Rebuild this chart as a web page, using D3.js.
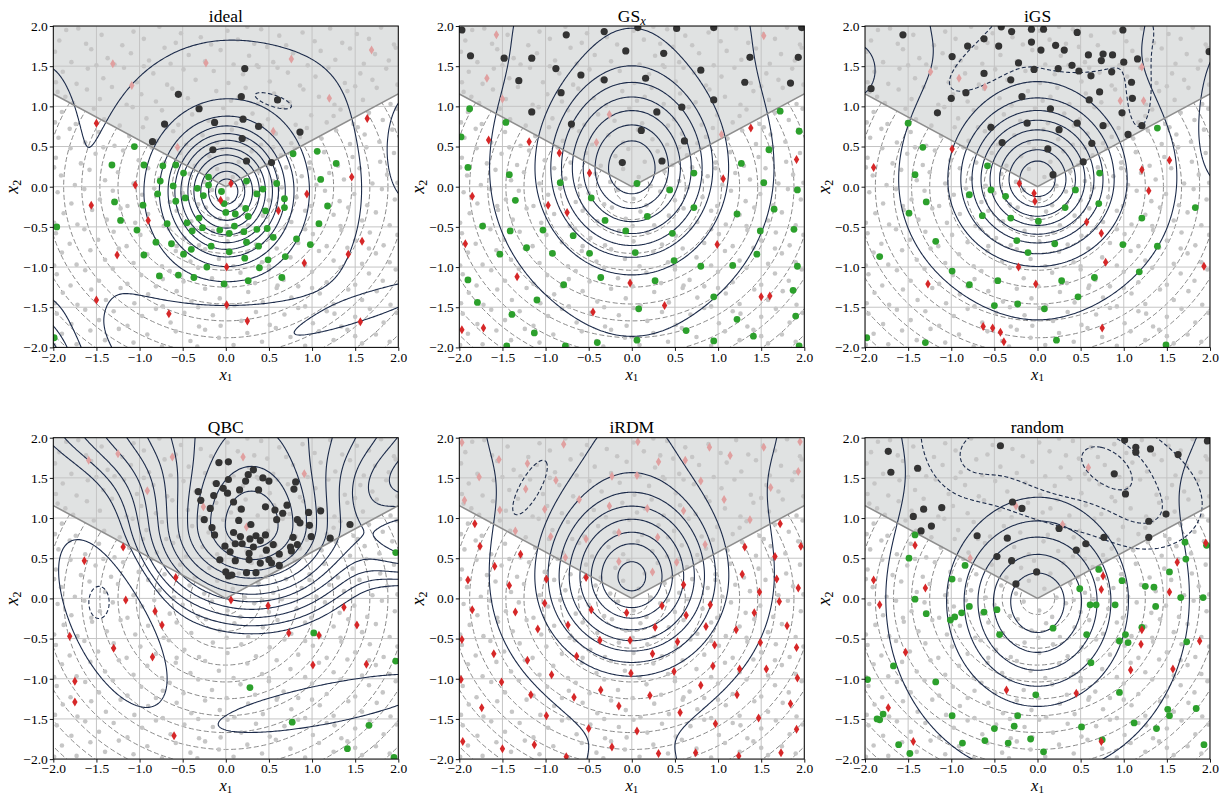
<!DOCTYPE html>
<html><head><meta charset="utf-8">
<script src="https://cdn.jsdelivr.net/npm/d3@7"></script>
<style>
html,body{margin:0;padding:0;background:#fff;}
svg{display:block;}
text{font-family:"Liberation Serif","Times New Roman",serif;fill:#000;}
</style></head><body>
<svg id="chart" width="1229" height="795"></svg>
<script>
// ================= DATA =================
const panelTitles = ["ideal", "GS", "iGS", "QBC", "iRDM", "random"];
const axisTicks = [-2, -1.5, -1, -0.5, 0, 0.5, 1, 1.5, 2];
const trueContourRadii = [0.2, 0.41, 0.62, 0.83, 1.04, 1.25, 1.46, 1.67, 1.88, 2.09, 2.3, 2.51, 2.72];
const boundarySlope = 0.5774;

// unlabeled pool (light grey dots), x y pairs
const poolPoints = `-1.93 1.82 -1.71 1.97 -1.62 1.78 -1.44 1.89 -1.2 1.76 -1.07 1.93 -0.95 1.84 -0.77 1.99 -0.58 1.79 -0.52 1.91 -0.29 1.86 -0.17 1.77 0.02 1.94 0.14 1.83 0.33 1.78 0.41 1.96 0.62 1.88 0.7 1.76 0.89 1.92 1.03 1.81 1.21 1.97 1.35 1.79 1.52 1.9 1.66 1.84 1.8 1.98 1.95 1.77 -1.85 1.95 0.25 1.99
-1.98 1.68 -1.79 1.55 -1.56 1.71 -1.37 1.6 -1.29 1.52 -1.1 1.66 -0.89 1.57 -0.71 1.73 -0.64 1.53 -0.43 1.64 -0.24 1.56 -0.06 1.7 0.09 1.52 0.27 1.63 0.48 1.74 0.55 1.55 0.78 1.66 0.95 1.51 1.1 1.69 1.27 1.58 1.44 1.72 1.6 1.53 1.73 1.65 1.89 1.57 -1.5 1.51 0.36 1.51 1.97 1.73
-1.89 1.43 -1.73 1.28 -1.6 1.47 -1.42 1.35 -1.18 1.48 -1.03 1.3 -0.84 1.41 -0.68 1.27 -0.49 1.46 -0.35 1.33 -0.14 1.44 0.03 1.29 0.2 1.4 0.38 1.49 0.51 1.31 0.72 1.42 0.86 1.26 1.04 1.37 1.19 1.48 1.38 1.29 1.56 1.41 1.7 1.33 1.86 1.47 1.99 1.27 -1.97 1.3 -0.95 1.5 0.6 1.48
-1.95 1.18 -1.77 1.04 -1.61 1.21 -1.46 1.09 -1.32 1.24 -1.15 1.02 -0.98 1.15 -0.81 1.06 -0.62 1.22 -0.44 1.1 -0.3 1.01 -0.11 1.19 0.06 1.07 0.23 1.23 0.37 1.03 0.56 1.16 0.74 1.05 0.9 1.21 1.08 1.12 1.26 1.02 1.41 1.19 1.59 1.08 1.75 1.23 1.91 1.03 -1.86 1.12 0.15 1.12 1.5 1.25
-1.9 0.93 -1.74 0.78 -1.53 0.97 -1.41 0.84 -1.23 0.76 -1.08 0.99 -0.92 0.85 -0.74 0.95 -0.55 0.77 -0.39 0.9 -0.2 0.82 -0.03 0.98 0.12 0.79 0.31 0.91 0.49 0.84 0.66 0.99 0.81 0.77 0.99 0.89 1.17 0.8 1.33 0.96 1.48 0.78 1.66 0.92 1.82 0.83 1.98 0.97 -1.98 0.8 0.42 0.76 1.25 0.88
-1.94 0.61 -1.81 0.72 -1.63 0.55 -1.47 0.68 -1.29 0.51 -1.12 0.63 -0.96 0.74 -0.8 0.57 -0.61 0.69 -0.46 0.52 -0.27 0.64 -0.1 0.55 0.07 0.71 0.24 0.59 0.41 0.52 0.58 0.66 0.76 0.54 0.94 0.73 1.11 0.6 1.28 0.7 1.44 0.53 1.61 0.65 1.78 0.56 1.93 0.71 -0.69 0.74 0.86 0.62 1.53 0.74
-1.97 0.36 -1.8 0.48 -1.68 0.29 -1.51 0.41 -1.33 0.27 -1.19 0.45 -1.01 0.33 -0.86 0.49 -0.71 0.3 -0.53 0.42 -0.36 0.26 -0.19 0.38 -0.04 0.47 0.15 0.31 0.3 0.44 0.47 0.27 0.64 0.39 0.8 0.48 0.97 0.3 1.14 0.43 1.3 0.26 1.47 0.37 1.63 0.49 1.79 0.31 1.95 0.42 -1.42 0.49 0.55 0.49
-1.91 0.14 -1.75 0.02 -1.58 0.21 -1.4 0.08 -1.25 0.18 -1.07 0.04 -0.9 0.23 -0.77 0.1 -0.6 0.01 -0.42 0.16 -0.25 0.06 -0.1 0.22 0.08 0.12 0.22 0.01 0.38 0.19 0.55 0.07 0.7 0.24 0.88 0.13 1.05 0.02 1.2 0.17 1.37 0.09 1.55 0.23 1.7 0.04 1.87 0.15 1.99 0.05 -1.99 0.24 0.97 0.23
-1.95 -0.07 -1.79 -0.21 -1.64 -0.03 -1.46 -0.16 -1.31 -0.05 -1.14 -0.24 -0.97 -0.1 -0.83 -0.02 -0.65 -0.19 -0.5 -0.08 -0.32 -0.22 -0.16 -0.04 0.02 -0.15 0.17 -0.23 0.33 -0.06 0.5 -0.17 0.65 -0.01 0.82 -0.13 0.99 -0.24 1.15 -0.05 1.32 -0.18 1.49 -0.09 1.64 -0.23 1.81 -0.03 1.96 -0.16 -1.56 -0.24 0.42 -0.02
-1.88 -0.33 -1.72 -0.47 -1.55 -0.29 -1.38 -0.41 -1.22 -0.27 -1.05 -0.45 -0.9 -0.34 -0.72 -0.49 -0.57 -0.3 -0.4 -0.43 -0.23 -0.26 -0.07 -0.4 0.1 -0.31 0.26 -0.48 0.43 -0.36 0.6 -0.27 0.76 -0.44 0.92 -0.3 1.09 -0.47 1.25 -0.35 1.42 -0.26 1.58 -0.42 1.74 -0.32 1.9 -0.48 -1.99 -0.45 0.01 -0.49 1.33 -0.49
-1.97 -0.58 -1.81 -0.71 -1.64 -0.53 -1.48 -0.66 -1.3 -0.56 -1.15 -0.74 -0.99 -0.6 -0.81 -0.69 -0.66 -0.52 -0.48 -0.64 -0.31 -0.73 -0.15 -0.55 0.02 -0.68 0.18 -0.57 0.35 -0.72 0.51 -0.61 0.68 -0.51 0.84 -0.7 1.01 -0.59 1.17 -0.74 1.34 -0.54 1.5 -0.67 1.67 -0.57 1.83 -0.73 1.99 -0.6 -0.57 -0.74 0.92 -0.53
-1.9 -0.82 -1.73 -0.97 -1.57 -0.79 -1.4 -0.91 -1.24 -0.77 -1.07 -0.95 -0.91 -0.84 -0.74 -0.99 -0.58 -0.8 -0.41 -0.93 -0.24 -0.78 -0.08 -0.9 0.09 -0.99 0.25 -0.81 0.42 -0.94 0.59 -0.77 0.75 -0.88 0.92 -0.98 1.08 -0.8 1.25 -0.92 1.41 -0.76 1.58 -0.96 1.74 -0.83 1.9 -0.94 -1.99 -0.98 0.5 -0.99 1.66 -0.77
-1.96 -1.09 -1.8 -1.23 -1.63 -1.04 -1.47 -1.17 -1.31 -1.02 -1.14 -1.21 -0.98 -1.1 -0.81 -1.24 -0.65 -1.05 -0.49 -1.18 -0.32 -1.01 -0.16 -1.14 0.01 -1.24 0.17 -1.07 0.34 -1.2 0.5 -1.03 0.67 -1.16 0.84 -1.24 1.0 -1.06 1.17 -1.19 1.33 -1.01 1.5 -1.22 1.66 -1.08 1.82 -1.17 1.97 -1.03 -0.73 -1.15 0.6 -1.23
-1.89 -1.32 -1.72 -1.47 -1.56 -1.28 -1.39 -1.41 -1.22 -1.26 -1.06 -1.45 -0.9 -1.34 -0.73 -1.49 -0.57 -1.3 -0.4 -1.43 -0.24 -1.27 -0.07 -1.39 0.1 -1.48 0.26 -1.31 0.43 -1.44 0.59 -1.26 0.76 -1.38 0.92 -1.49 1.09 -1.33 1.25 -1.46 1.42 -1.28 1.58 -1.41 1.75 -1.3 1.91 -1.47 -1.98 -1.45 -0.32 -1.5 1.0 -1.26
-1.96 -1.58 -1.79 -1.71 -1.63 -1.53 -1.47 -1.66 -1.3 -1.55 -1.14 -1.73 -0.97 -1.61 -0.81 -1.52 -0.64 -1.69 -0.48 -1.57 -0.31 -1.74 -0.15 -1.6 0.02 -1.51 0.18 -1.67 0.35 -1.56 0.51 -1.72 0.68 -1.59 0.84 -1.51 1.01 -1.7 1.17 -1.55 1.34 -1.74 1.5 -1.62 1.67 -1.52 1.83 -1.69 1.98 -1.57 -0.06 -1.73 1.26 -1.58
-1.9 -1.83 -1.73 -1.96 -1.57 -1.79 -1.4 -1.91 -1.24 -1.77 -1.07 -1.94 -0.91 -1.84 -0.74 -1.99 -0.58 -1.8 -0.41 -1.92 -0.24 -1.78 -0.08 -1.88 0.09 -1.97 0.25 -1.82 0.42 -1.93 0.58 -1.76 0.75 -1.87 0.92 -1.98 1.08 -1.8 1.25 -1.91 1.41 -1.78 1.58 -1.95 1.74 -1.84 1.9 -1.93 -1.99 -1.97 -0.33 -1.99 1.5 -1.86`;

// ---- panel 1: ideal ----
const idealDark = [[0.22,1.47],[-0.55,1.15],[0.18,1.12],[0.60,1.08],[-0.31,0.97],[-0.71,0.78],[-0.13,0.80],[0.20,0.84],[0.38,0.75],[0.86,0.68],[-0.85,0.56],[0.19,0.60],[-0.15,0.46],[0.24,0.32],[0.53,0.30]];
const idealPink = [[-1.31,1.53],[-0.23,1.54],[0.76,1.59],[1.69,1.70],[-1.09,1.26],[1.20,1.10],[0.55,0.69],[-0.56,0.49]];
const idealRed = [[-1.50,0.79],[1.64,0.85],[-1.05,0.02],[0.06,0.04],[-1.56,-0.23],[1.46,0.12],[0.94,-0.09],[-0.06,-0.17],[0.61,-0.30],[-0.90,-0.42],[1.58,-0.68],[-1.26,-0.85],[1.42,-0.84],[0.91,-0.95],[0.01,-1.00],[-1.50,-1.41],[0.01,-1.47],[-0.66,-1.58],[0.25,-1.67],[1.56,-1.68]];
const idealGreen = [[-1.06,0.50],[-1.32,0.27],[-0.95,0.27],[-0.73,0.26],[-0.58,0.27],[-0.49,0.17],[-0.20,0.12],[0.24,0.07],[0.78,0.41],[1.06,0.44],[1.28,0.29],[1.10,0.09],[-0.76,0.07],[-0.61,0.01],[-0.33,-0.02],[-0.20,0.02],[-0.05,-0.06],[0.36,-0.09],[0.43,-0.03],[0.59,0.04],[-1.29,-0.19],[-0.96,-0.23],[-0.79,-0.09],[-0.58,-0.18],[-0.47,-0.14],[-0.26,-0.11],[-0.02,-0.21],[0.23,-0.27],[0.11,-0.34],[0.00,-0.32],[0.26,-0.37],[0.46,-0.30],[0.68,-0.15],[0.68,-0.26],[1.18,-0.24],[-1.22,-0.42],[-1.03,-0.54],[-0.68,-0.46],[-0.45,-0.45],[-0.31,-0.39],[-0.27,-0.51],[-0.07,-0.54],[0.04,-0.58],[0.10,-0.49],[0.21,-0.56],[0.36,-0.53],[0.48,-0.52],[1.08,-0.46],[-0.39,-0.55],[-0.63,-0.71],[-0.81,-0.69],[-0.40,-0.78],[-0.49,-0.84],[-0.17,-0.74],[0.04,-0.81],[0.24,-0.69],[0.38,-0.74],[0.55,-0.63],[0.82,-0.65],[0.98,-0.72],[0.69,-0.87],[0.49,-0.91],[0.22,-0.89],[-0.95,-0.85],[-0.77,-1.11],[-0.55,-1.10],[-0.37,-1.13],[-0.22,-1.00],[-0.02,-1.21],[0.26,-1.17],[0.39,-1.01],[0.65,-1.13],[-1.96,-0.50],[-1.99,-1.88]];

// ---- panel 2: GS_x ----
const gsxDark = [[-1.97,1.95],[0.07,1.98],[0.52,1.97],[0.95,1.98],[1.97,1.98],[-1.87,1.63],[-1.48,1.60],[-1.16,1.60],[-0.76,1.89],[-0.32,1.93],[-0.07,1.69],[0.37,1.66],[1.37,1.61],[1.93,1.61],[-0.88,1.47],[-0.59,1.39],[-0.32,1.33],[0.16,1.35],[0.80,1.45],[-1.31,1.32],[-0.82,1.17],[1.31,1.30],[1.84,1.29],[0.95,1.08],[-1.16,0.93],[-0.70,0.78],[0.58,0.99],[0.29,0.93],[0.11,0.70],[0.61,0.57],[0.35,0.32],[-0.11,0.30]];
const gsxPink = [[-1.57,1.89],[-1.68,1.35],[-1.50,1.09],[-0.26,0.90],[-0.41,0.55],[1.04,0.65],[1.53,1.88]];
const gsxRed = [[-1.66,0.58],[-1.19,0.56],[-0.84,0.42],[-0.49,0.17],[1.06,0.10],[1.38,0.73],[1.91,0.34],[-1.85,-0.12],[-0.97,-0.23],[-0.75,-0.32],[-1.93,-0.71],[0.99,-0.72],[-1.33,-1.12],[-0.02,-1.20],[0.38,-1.48],[-0.45,-1.56],[1.50,-1.37],[1.60,-1.36],[-1.97,-1.78],[-1.72,-1.76]];
const gsxGreen = [[-1.88,0.97],[-1.46,0.80],[-1.98,0.62],[-1.90,0.24],[-1.42,0.15],[-0.83,0.05],[-1.35,-0.17],[-0.47,-0.14],[0.06,0.04],[0.44,-0.04],[0.72,0.17],[1.27,0.29],[1.59,0.46],[1.72,0.94],[1.94,0.69],[1.53,0.05],[1.92,-0.04],[0.72,-0.26],[0.18,-0.37],[-0.31,-0.42],[1.22,-0.34],[1.65,-0.28],[-1.73,-0.49],[-1.41,-0.55],[-1.03,-0.54],[-0.68,-0.61],[-0.07,-0.55],[0.47,-0.58],[1.49,-0.55],[1.88,-0.53],[-1.53,-0.84],[-1.22,-0.76],[-0.92,-0.83],[-0.49,-0.83],[0.04,-0.82],[0.49,-0.92],[1.45,-0.84],[0.80,-0.99],[1.17,-0.98],[1.92,-0.99],[-1.90,-1.16],[-0.79,-1.22],[-0.36,-1.13],[0.27,-1.17],[-1.79,-1.44],[-1.10,-1.41],[0.95,-1.37],[1.87,-1.29],[-1.39,-1.59],[0.08,-1.52],[1.22,-1.65],[1.90,-1.61],[-1.13,-1.82],[0.63,-1.79],[1.41,-1.86],[-1.45,-1.98],[-0.77,-1.98],[-0.40,-1.94],[0.06,-1.91],[0.95,-1.92],[1.94,-1.98]];

// ---- panel 3: iGS ----
const igsDark = [[-1.56,1.89],[-1.93,1.22],[-0.99,1.62],[-0.81,1.75],[-0.62,1.84],[-0.45,1.75],[-0.42,1.99],[-0.30,1.93],[-0.07,1.96],[0.07,1.96],[-0.07,1.80],[0.04,1.70],[0.21,1.76],[0.31,1.70],[0.46,1.92],[0.99,1.95],[0.59,1.64],[0.76,1.65],[0.87,1.64],[0.74,1.57],[1.00,1.55],[1.16,1.59],[1.99,1.68],[-0.22,1.54],[-0.04,1.46],[0.24,1.47],[0.40,1.51],[0.48,1.44],[0.62,1.38],[0.86,1.43],[1.09,1.30],[-0.62,1.41],[-0.31,1.33],[0.72,1.18],[-0.83,1.17],[-1.00,1.10],[-0.18,1.12],[0.60,1.08],[1.10,1.10],[0.98,0.92],[-1.16,0.92],[0.15,0.97],[-0.54,0.74],[-0.12,0.79],[0.25,0.71],[0.46,0.79],[0.76,0.76],[1.21,0.76],[1.05,0.65],[-0.41,0.55],[0.12,0.47],[0.63,0.54],[0.53,0.31],[0.18,0.15]];
const igsPink = [[-1.24,1.43],[-0.91,1.35],[-0.61,1.24],[1.21,1.49],[0.96,1.07],[1.23,1.07]];
const igsRed = [[-1.90,0.24],[-0.99,0.47],[-0.21,0.04],[-0.04,-0.08],[-0.03,-0.18],[1.21,0.21],[1.53,0.33],[1.29,-0.05],[0.57,-0.44],[0.74,-0.58],[-0.22,-1.00],[0.79,-0.94],[1.93,-0.99],[-1.27,-1.21],[-0.02,-1.21],[-0.63,-1.74],[-0.52,-1.76],[-0.43,-1.81],[-0.39,-1.93],[0.75,-1.76]];
const igsGreen = [[-1.50,0.79],[-1.33,0.49],[-1.42,0.15],[-1.29,-0.19],[-1.49,-0.33],[-1.18,-0.68],[-1.83,-0.87],[-1.98,-1.88],[-1.30,-1.94],[-0.58,0.26],[-0.54,-0.04],[-0.79,-0.10],[-0.37,-0.12],[-0.31,-0.39],[-0.64,-0.36],[0.01,-0.43],[0.32,-0.26],[0.44,-0.04],[0.71,-0.21],[0.72,0.17],[1.21,-0.39],[1.83,-0.26],[1.39,0.73],[-0.24,-0.67],[-0.11,-0.82],[0.20,-0.71],[0.99,-0.72],[1.39,-0.74],[-0.99,-1.05],[-0.79,-1.22],[-0.46,-1.17],[0.28,-1.17],[0.66,-1.13],[1.18,-1.06],[0.47,-1.37],[-0.50,-1.48],[-0.23,-1.46],[0.08,-1.52],[0.22,-1.91],[1.49,-1.97]];

// ---- panel 4: QBC ----
const qbcDark = [[-0.08,1.69],[0.03,1.70],[0.32,1.60],[0.26,1.54],[0.43,1.50],[0.23,1.46],[0.03,1.48],[0.50,1.46],[0.81,1.45],[-0.11,1.43],[0.38,1.35],[0.16,1.35],[-0.03,1.37],[0.79,1.36],[-0.32,1.33],[-0.29,1.22],[-0.14,1.28],[0.02,1.31],[0.09,1.20],[-0.18,1.12],[0.18,1.11],[0.46,1.14],[0.71,1.16],[0.66,1.06],[0.57,1.10],[1.10,1.09],[0.96,1.07],[0.59,0.98],[0.83,0.98],[0.15,0.97],[-0.16,0.88],[0.86,0.94],[0.97,0.91],[1.44,0.92],[0.29,0.92],[-0.13,0.79],[0.09,0.82],[0.35,0.78],[0.46,0.79],[0.99,0.77],[1.21,0.75],[0.78,0.76],[0.17,0.77],[0.28,0.74],[0.40,0.72],[0.11,0.68],[0.19,0.68],[0.32,0.64],[0.55,0.67],[0.75,0.64],[0.83,0.67],[0.76,0.59],[0.47,0.60],[-0.01,0.65],[0.05,0.58],[0.27,0.56],[0.62,0.55],[0.11,0.47],[0.27,0.48],[-0.07,0.48],[0.40,0.44],[0.53,0.44],[0.62,0.41],[0.00,0.33],[0.07,0.29],[0.24,0.32],[0.35,0.32],[0.03,0.28],[-0.25,0.98],[0.50,0.48]];
const qbcPink = [[-1.59,1.72],[-1.25,1.80],[-0.62,1.76],[0.20,1.76],[0.91,1.55],[-0.91,1.34],[-0.26,1.14],[0.24,0.89]];
const qbcRed = [[-1.19,0.64],[-1.64,0.47],[-0.58,0.26],[0.06,-0.02],[-1.16,-0.02],[-0.82,-0.16],[-0.74,-0.33],[0.49,-0.09],[1.37,-0.11],[1.52,-0.33],[-1.81,-0.47],[-1.30,-0.62],[-0.85,-0.73],[0.73,-0.43],[1.08,-0.46],[1.01,-0.83],[1.63,-0.82],[-1.75,-1.03],[-1.75,-1.29],[-0.60,-1.71]];
const qbcGreen = [[1.02,-0.43],[1.97,0.57],[1.97,-0.78],[0.28,-1.11],[0.77,-1.54],[1.66,-1.58],[1.41,-1.87],[1.95,-1.98]];

// ---- panel 5: iRDM ----
const irdmDark = [];
const irdmPink = [[-1.97,1.94],[-0.79,1.92],[0.07,1.95],[1.95,1.95],[-1.54,1.73],[-1.21,1.68],[0.31,1.70],[0.62,1.72],[0.90,1.88],[1.14,1.78],[1.53,1.88],[-1.77,1.51],[-0.88,1.47],[-0.23,1.52],[0.06,1.53],[0.80,1.46],[1.61,1.38],[1.93,1.58],[-1.94,1.22],[-1.23,1.36],[-0.61,1.23],[-0.26,1.15],[0.18,1.12],[0.60,1.09],[1.07,1.23],[-1.53,1.10],[-1.01,1.11],[-1.35,0.84],[-0.94,0.77],[-0.53,0.74],[-0.15,0.82],[0.30,0.76],[0.85,0.67],[1.37,0.98],[0.52,0.45],[-0.15,0.46],[0.24,0.33],[-0.77,0.51]];
const irdmRed = [[-1.82,0.93],[-1.76,0.65],[-1.29,0.55],[1.72,0.93],[1.31,0.64],[1.96,0.65],[1.66,0.52],[-1.59,0.40],[-1.90,0.23],[-1.42,0.16],[-0.99,0.24],[-0.53,0.26],[0.60,0.17],[1.28,0.30],[1.68,0.24],[1.93,0.13],[1.48,0.08],[-1.85,-0.14],[-1.35,-0.17],[-1.01,-0.06],[-0.47,-0.14],[-0.06,-0.18],[0.35,-0.09],[0.91,-0.08],[1.71,-0.04],[1.42,-0.18],[0.63,-0.21],[-1.09,-0.38],[-0.74,-0.33],[0.27,-0.36],[0.86,-0.35],[1.21,-0.39],[1.80,-0.34],[-1.97,-0.51],[-0.37,-0.52],[-0.02,-0.52],[0.53,-0.54],[0.96,-0.58],[1.49,-0.55],[1.91,-0.61],[-1.60,-0.69],[-0.64,-0.72],[0.24,-0.69],[-1.21,-0.77],[0.94,-0.84],[1.25,-0.88],[1.56,-0.88],[-0.93,-0.95],[-0.01,-0.93],[0.49,-0.91],[-1.98,-1.01],[1.92,-0.99],[-1.51,-1.04],[0.80,-1.08],[-1.17,-1.20],[-0.36,-1.14],[0.21,-1.21],[-0.67,-1.23],[1.22,-1.20],[1.84,-1.31],[-1.74,-1.36],[-0.15,-1.34],[0.56,-1.42],[-0.99,-1.46],[0.97,-1.56],[1.47,-1.49],[1.91,-1.63],[-0.50,-1.62],[0.06,-1.65],[-1.96,-1.78],[-1.50,-1.87],[-1.13,-1.82],[-0.23,-1.85],[0.31,-1.93],[0.74,-1.92],[-0.76,-1.97],[1.24,-1.96],[1.73,-1.92]];
const irdmGreen = [];

// ---- panel 6: random ----
const randDark = [[-1.73,1.83],[-1.70,1.57],[-1.39,1.62],[-0.43,1.90],[1.01,1.97],[1.14,1.88],[1.14,1.82],[1.31,1.86],[1.63,1.79],[1.97,1.96],[0.89,1.55],[1.02,1.30],[-0.29,1.20],[-0.18,1.12],[-1.32,1.11],[-1.11,1.13],[-1.44,1.02],[1.29,0.96],[1.49,1.05],[-1.23,0.90],[-1.35,0.84],[0.25,0.87],[-0.70,0.78],[-0.35,0.75],[0.77,0.76],[1.29,0.76],[0.56,0.68],[0.45,0.60],[-0.47,0.52],[-0.30,0.47],[-0.01,0.33],[-0.25,0.18]];
const randPink = [[0.59,1.63],[-0.25,1.15],[0.29,0.92],[-0.78,0.50]];
const randRed = [[-1.42,0.66],[-1.90,0.23],[-1.30,0.13],[-1.83,-0.08],[0.76,0.28],[0.74,0.11],[1.62,0.45],[1.53,0.08],[1.95,0.69],[1.21,-0.39],[1.20,-0.57],[1.88,-0.53],[-1.53,-0.67],[1.08,-0.89],[1.57,-0.88],[-0.36,-1.14],[0.45,-1.18],[-1.73,-1.36],[-1.44,-1.78],[0.74,-1.78]];
const randGreen = [[-1.42,0.79],[-1.49,0.50],[-1.42,-0.01],[-1.29,-0.19],[-0.99,0.24],[-0.84,0.41],[-0.79,-0.10],[-0.88,-0.18],[-0.96,-0.23],[-1.01,-0.27],[-0.62,-0.17],[-0.47,-0.14],[-0.44,-0.45],[0.18,-0.37],[0.49,0.12],[0.61,-0.08],[0.68,-0.08],[0.90,-0.08],[0.71,0.36],[0.98,0.22],[1.25,0.15],[1.35,0.14],[1.37,-0.10],[1.53,0.33],[1.66,0.01],[1.71,0.70],[1.72,0.49],[1.96,0.66],[1.92,0.01],[0.57,-0.45],[0.95,-0.53],[1.05,-0.55],[1.02,-0.45],[1.21,-0.36],[1.73,-0.54],[0.62,-0.80],[-1.67,-0.84],[-1.18,-1.04],[-1.97,-1.01],[-0.02,-1.20],[0.95,-1.17],[-0.99,-1.46],[-0.23,-1.46],[-1.79,-1.44],[-1.86,-1.50],[-1.83,-1.51],[-0.50,-1.62],[-0.27,-1.59],[0.51,-1.60],[1.12,-1.55],[1.51,-1.38],[1.53,-1.46],[1.84,-1.37],[1.38,-1.62],[-1.61,-1.82],[-1.48,-1.93],[-0.87,-1.80],[-0.61,-1.77],[-0.34,-1.80],[-0.08,-1.75],[0.07,-1.91],[0.75,-1.76],[1.93,-1.82]];

// ---- model surfaces (estimated contour families): [cx, cy, sx, syUp, syDown, amp, angleDeg, cone?]
const idealSolidBumps = [[0.01,-0.06,0.5,0.6,0.6,1,0,1],[0,-1.75,0.9,0.25,0.25,-0.09,0,0],[-2.15,0.68,0.25,0.6,0.6,0.1,0,0],[1.1,1.3,0.5,0.5,0.5,0.012,0,0],[2.15,0.5,0.15,0.4,0.4,0.12,0,0],[1.5,-1.55,0.7,0.1,0.1,0.12,21,0],[-2.3,-2.6,0.5,0.9,0.9,0.4,0,0]];
const idealSolidLevels = [0.044,0.147,0.21,0.257,0.301,0.346,0.407,0.468,0.549,0.657,0.771];
const idealDashBumps = [[0.55,1.07,0.19,0.06,0.06,1,-20,0]];
const idealDashLevels = [0.5];

const gsxSolidBumps = [[0,0.23,0.5,0.63,0.59,1,0,1],[0,2.3,1.0,0.6,0.6,0.05,0,0],[0,-2.3,1.2,0.5,0.5,0.012,0,0]];
const gsxSolidLevels = [0.037,0.106,0.153,0.196,0.252,0.324,0.427,0.583];
const gsxDashBumps = [];
const gsxDashLevels = [];

const igsSolidBumps = [[0,0.09,0.5,0.56,0.52,1,0,1],[0,2.4,1.1,0.6,0.6,0.06,0,0],[2.2,0.9,0.2,0.6,0.6,0.08,0,0],[-2.15,1.45,0.15,0.2,0.2,0.12,0,0],[0,-2.3,1.0,0.5,0.5,0.012,0,0]];
const igsSolidLevels = [0.04,0.125,0.169,0.219,0.270,0.333,0.415,0.517,0.664];
const igsDashBumps = [[0.45,1.95,0.75,0.45,0.45,1,0,0],[-0.65,1.5,0.38,0.16,0.16,0.9,38,0],[1.18,1.1,0.11,0.33,0.33,0.85,0,0]];
const igsDashLevels = [0.5];

const qbcSolidBumps = [[0.3,0.9,0.45,0.6,0.4,1,0,1],[0.3,2.4,1.5,0.6,0.6,0.14,0,0],[2.3,0.75,0.5,0.35,0.35,0.1,0,0],[-1.3,-0.15,0.62,0.27,0.27,-0.06,-67,0],[1.15,-1.3,0.69,0.14,0.14,-0.037,12,0],[0,0,60,60,60,0.03,0,0]];
const qbcSolidLevels = [0.025,0.065,0.075,0.088,0.105,0.125,0.15,0.185,0.228,0.282,0.383,0.543];
const qbcDashBumps = [[-1.47,-0.05,0.1,0.17,0.17,1,0,0]];
const qbcDashLevels = [0.5];

const irdmSolidBumps = [[0,0.27,0.5,0.58,0.55,1,0,1],[0,2.4,1.25,0.7,0.7,0.075,0,0],[0,-2.3,1.2,0.5,0.5,0.03,0,0]];
const irdmSolidLevels = [0.037,0.106,0.144,0.186,0.235,0.301,0.391,0.497,0.726];
const irdmDashBumps = [[-1.18,1.38,0.32,0.1,0.1,1,63,0]];
const irdmDashLevels = [0.5];

const randSolidBumps = [[0,-0.04,0.5,0.57,0.62,1,0,1],[0.2,2.6,1.4,0.9,0.9,0.06,0,0]];
const randSolidLevels = [0.03,0.122,0.183,0.252,0.361,0.538];
const randDashBumps = [[0.25,1.72,1.3,0.62,0.62,1,-19,0],[-0.85,1.62,0.28,0.3,0.3,0.22,0,0],[1.3,0.95,0.35,0.3,0.3,0.27,0,0],[0.85,1.63,0.3,0.18,0.18,0.6,-45,0]];
const randDashLevels = [0.45,0.8,1.2];

// ================= LAYOUT =================
const colX = [53.3, 459.3, 865];
const rowY = [26, 437.7];
const PW = 345, PH = 321.4;

const panels = [
  {title: panelTitles[0], col:0,row:0, dark: idealDark, pink: idealPink, red: idealRed, green: idealGreen, sb: idealSolidBumps, sl: idealSolidLevels, db: idealDashBumps, dl: idealDashLevels},
  {title: panelTitles[1], sub:"x", col:1,row:0, dark: gsxDark, pink: gsxPink, red: gsxRed, green: gsxGreen, sb: gsxSolidBumps, sl: gsxSolidLevels, db: gsxDashBumps, dl: gsxDashLevels},
  {title: panelTitles[2], col:2,row:0, dark: igsDark, pink: igsPink, red: igsRed, green: igsGreen, sb: igsSolidBumps, sl: igsSolidLevels, db: igsDashBumps, dl: igsDashLevels},
  {title: panelTitles[3], col:0,row:1, dark: qbcDark, pink: qbcPink, red: qbcRed, green: qbcGreen, sb: qbcSolidBumps, sl: qbcSolidLevels, db: qbcDashBumps, dl: qbcDashLevels},
  {title: panelTitles[4], col:1,row:1, dark: irdmDark, pink: irdmPink, red: irdmRed, green: irdmGreen, sb: irdmSolidBumps, sl: irdmSolidLevels, db: irdmDashBumps, dl: irdmDashLevels},
  {title: panelTitles[5], col:2,row:1, dark: randDark, pink: randPink, red: randRed, green: randGreen, sb: randSolidBumps, sl: randSolidLevels, db: randDashBumps, dl: randDashLevels}
];

const pool = (() => { const v = poolPoints.trim().split(/\s+/).map(Number); const out=[]; for (let i=0;i+1<v.length;i+=2) out.push([v[i],v[i+1]]); return out; })();

function surface(bumps, x, y) {
  let s = 0;
  for (const [cx, cy, sx, syU, syD, amp, ang, cone] of bumps) {
    const a = ang * Math.PI / 180, c = Math.cos(a), sn = Math.sin(a);
    const dx = x - cx, dy = y - cy;
    const u = dx * c + dy * sn, v = -dx * sn + dy * c;
    const r2 = (u / sx) ** 2 + (v / (v > 0 ? syU : syD)) ** 2;
    s += amp * (cone ? Math.exp(-Math.sqrt(r2 + 0.0004)) : Math.exp(-r2 / 2));
  }
  return s;
}

const G0 = -2.3, STEP = 0.02, GN = Math.round(4.6 / STEP) + 1;

const svg = d3.select("#chart");
const fmt = d3.format(".1f");
const diamond = "M0,-4.5L2.7,0L0,4.5L-2.7,0Z";

panels.forEach((p, i) => {
  const x0 = colX[p.col], y0 = rowY[p.row];
  const xs = d3.scaleLinear().domain([-2, 2]).range([x0, x0 + PW]);
  const ys = d3.scaleLinear().domain([-2, 2]).range([y0 + PH, y0]);
  const g = svg.append("g");
  const clipId = "clip" + i;
  svg.append("clipPath").attr("id", clipId).append("rect").attr("x", x0).attr("y", y0).attr("width", PW).attr("height", PH);
  const pg = g.append("g").attr("clip-path", `url(#${clipId})`);

  // true-function contours (dashed grey circles)
  const ky = (ys(0) - ys(1)) / (xs(1) - xs(0));
  pg.append("g").selectAll("ellipse").data(trueContourRadii).join("ellipse")
    .attr("cx", xs(0)).attr("cy", ys(0))
    .attr("rx", d => xs(d) - xs(0)).attr("ry", d => (xs(d) - xs(0)) * ky)
    .attr("fill", "none").attr("stroke", "#8a8a8a").attr("stroke-width", 1).attr("stroke-dasharray", "5,2.6");

  // infeasible region
  const yb = boundarySlope * 2;
  const poly = [[-2.05, yb*1.025], [0, 0], [2.05, yb*1.025], [2.05, 2.05], [-2.05, 2.05]];
  pg.append("path").attr("d", d3.line().x(d => xs(d[0])).y(d => ys(d[1]))(poly) + "Z")
    .attr("fill", "#e0e2e2").attr("stroke", "none");

  // grid
  const gridG = pg.append("g").attr("stroke", "#c4c4c4").attr("stroke-width", 1);
  axisTicks.forEach(t => {
    gridG.append("line").attr("x1", xs(t)).attr("x2", xs(t)).attr("y1", y0).attr("y2", y0 + PH);
    gridG.append("line").attr("y1", ys(t)).attr("y2", ys(t)).attr("x1", x0).attr("x2", x0 + PW);
  });

  // pool points
  pg.append("g").selectAll("circle").data(pool).join("circle")
    .attr("cx", d => xs(d[0])).attr("cy", d => ys(d[1])).attr("r", 2.3).attr("fill", "#c6c6c6");

  // model contours
  const proj = d3.geoTransform({ point(px, py) { this.stream.point(xs(G0 + (px - 0.5) * STEP), ys(G0 + (py - 0.5) * STEP)); } });
  const path = d3.geoPath(proj);
  const drawField = (bumps, levels, dashed) => {
    if (!bumps.length || !levels.length) return;
    const vals = new Float64Array(GN * GN);
    for (let j = 0; j < GN; j++) for (let k = 0; k < GN; k++) vals[j * GN + k] = surface(bumps, G0 + k * STEP, G0 + j * STEP);
    const cs = d3.contours().size([GN, GN]).thresholds(levels)(vals);
    pg.append("g").selectAll("path").data(cs).join("path").attr("d", path)
      .attr("fill", "none").attr("stroke", "#1c2b4a").attr("stroke-width", 1.1)
      .attr("stroke-dasharray", dashed ? "4,2.4" : null);
  };
  drawField(p.sb, p.sl, false);
  drawField(p.db, p.dl, true);

  // boundary
  pg.append("path").attr("d", d3.line().x(d => xs(d[0])).y(d => ys(d[1]))([[-2, yb], [0, 0], [2, yb]]))
    .attr("fill", "none").attr("stroke", "#8e8e8e").attr("stroke-width", 1.6);

  // markers
  pg.append("g").selectAll("path").data(p.pink).join("path").attr("d", diamond)
    .attr("transform", d => `translate(${xs(d[0])},${ys(d[1])})`).attr("fill", "#e0a0a0");
  pg.append("g").selectAll("circle").data(p.dark).join("circle")
    .attr("cx", d => xs(d[0])).attr("cy", d => ys(d[1])).attr("r", 3.6).attr("fill", "#333333");
  pg.append("g").selectAll("circle").data(p.green).join("circle")
    .attr("cx", d => xs(d[0])).attr("cy", d => ys(d[1])).attr("r", 3.4).attr("fill", "#2ca02c");
  pg.append("g").selectAll("path").data(p.red).join("path").attr("d", diamond)
    .attr("transform", d => `translate(${xs(d[0])},${ys(d[1])})`).attr("fill", "#d62728");

  // frame
  g.append("rect").attr("x", x0).attr("y", y0).attr("width", PW).attr("height", PH)
    .attr("fill", "none").attr("stroke", "#000").attr("stroke-width", 1);

  // axes
  const ax = g.append("g").attr("transform", `translate(0,${y0 + PH})`)
    .call(d3.axisBottom(xs).tickValues(axisTicks).tickFormat(fmt).tickSize(3.5).tickPadding(1.2));
  const ay = g.append("g").attr("transform", `translate(${x0},0)`)
    .call(d3.axisLeft(ys).tickValues(axisTicks).tickFormat(fmt).tickSize(3.5).tickPadding(2));
  [ax, ay].forEach(a => {
    a.select(".domain").remove();
    a.selectAll("text").attr("font-family", '"Liberation Serif",serif').attr("font-size", 13.5).attr("fill", "#000");
    a.selectAll("line").attr("stroke", "#000").attr("stroke-width", 0.9);
  });

  // title
  const tt = g.append("text").attr("x", x0 + PW / 2).attr("y", y0 - 4.5).attr("text-anchor", "middle").attr("font-size", 17.5).text(p.title);
  if (p.sub) tt.append("tspan").attr("font-style", "italic").attr("font-size", 12.5).attr("dy", 3.5).text(p.sub);

  // axis labels
  const xl = g.append("text").attr("x", x0 + PW / 2).attr("y", y0 + PH + 32.2).attr("text-anchor", "middle").attr("font-size", 16.5);
  xl.append("tspan").attr("font-style", "italic").text("x");
  xl.append("tspan").attr("font-size", 11).attr("dy", 1.3).text("1");
  const yl = g.append("text").attr("transform", `translate(${x0 - 35},${y0 + PH / 2}) rotate(-90)`).attr("text-anchor", "middle").attr("font-size", 18);
  yl.append("tspan").attr("font-style", "italic").text("x");
  yl.append("tspan").attr("font-size", 12).attr("dy", 3).text("2");
});
</script>
</body></html>
